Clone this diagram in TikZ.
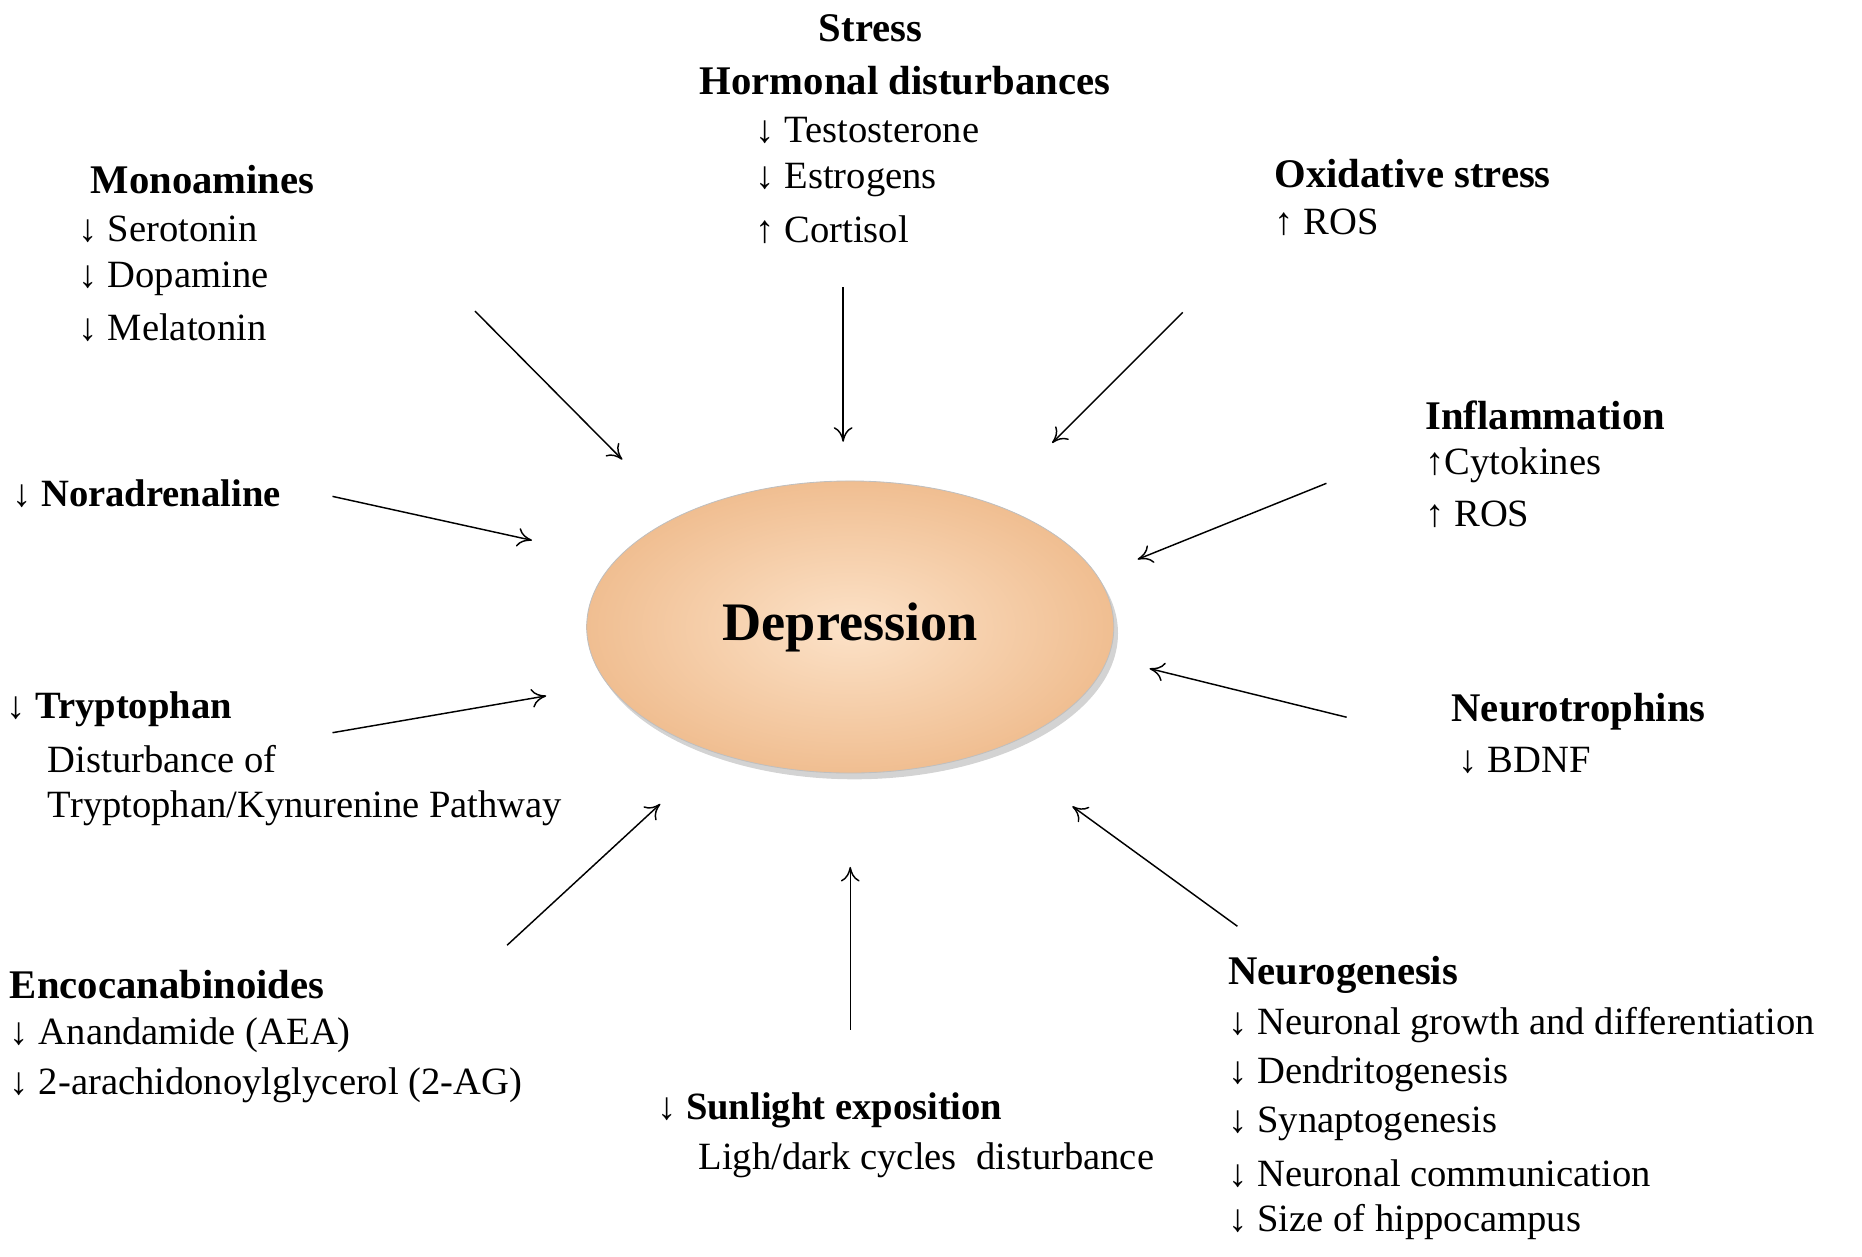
\documentclass[tikz,border=0pt]{standalone}
\usepackage{fontspec}
\setmainfont{Liberation Serif}
\usetikzlibrary{arrows.meta,shadows,shapes.geometric}
\begin{document}
\begin{tikzpicture}[x=0.02cm,y=-0.02cm,
  t/.style={anchor=west,inner sep=0pt,font=\fontsize{18.5}{22}\selectfont},
  b/.style={t,font=\fontsize{19.5}{22}\selectfont\bfseries},
  bc/.style={b,anchor=center},
  ar/.style={-{To[length=7pt,width=9pt]},line width=0.7pt}]
\useasboundingbox (0,0) rectangle (1568,1058);
\node[ellipse,minimum width=8.88cm,minimum height=4.92cm,draw=gray!50,
  inner color={rgb,255:red,252;green,226;blue,200},outer color={rgb,255:red,240;green,190;blue,145},
  drop shadow={opacity=0.35,shadow xshift=2pt,shadow yshift=-3pt},
  font=\fontsize{26}{30}\selectfont\bfseries] (dep) at (716,528) {Depression};
% texts
\node[bc] (stress) at (733,24) {Stress};
\node[bc] (horm) at (762,68) {Hormonal disturbances};
\node[t] (h1) at (636,110) {↓ Testosterone};
\node[t] (h2) at (636,152) {↓ Estrogens};
\node[t] (h3) at (636,193) {↑ Cortisol};
\node[b] (mono) at (76,151) {Monoamines};
\node[t] (m1) at (66,193) {↓ Serotonin};
\node[t] (m2) at (66,235) {↓ Dopamine};
\node[t] (m3) at (66,276) {↓ Melatonin};
\node[b] (ox) at (1073,146) {Oxidative stress};
\node[t] (ox1) at (1073,187) {↑ ROS};
\node[b] (infl) at (1200,350) {Inflammation};
\node[t] (in1) at (1200,392) {↑Cytokines};
\node[t] (in2) at (1200,433) {↑ ROS};
\node[t] (nor) at (10,416) {↓ \textbf{Noradrenaline}};
\node[t] (tr) at (5,597) {↓ \textbf{Tryptophan}};
\node[t] (tr1) at (40,639) {Disturbance of};
\node[t] (tr2) at (40,681) {Tryptophan/Kynurenine Pathway};
\node[b] (nt) at (1222,599) {Neurotrophins};
\node[t] (nt1) at (1228,640) {↓ BDNF};
\node[b] (enc) at (8,829) {Encocanabinoides};
\node[t] (e1) at (8,872) {↓ Anandamide (AEA)};
\node[t] (e2) at (8,914) {↓ 2-arachidonoylglycerol (2-AG)};
\node[t] (sun) at (553,935) {↓ \textbf{Sunlight exposition}};
\node[t] (sun1) at (588,977) {Ligh/dark cycles\ \ disturbance};
\node[b] (ng) at (1034,821) {Neurogenesis};
\node[t] (n1) at (1034,863) {↓ Neuronal growth and differentiation};
\node[t] (n2) at (1034,905) {↓ Dendritogenesis};
\node[t] (n3) at (1034,946) {↓ Synaptogenesis};
\node[t] (n4) at (1034,988) {↓ Neuronal communication};
\node[t] (n5) at (1034,1029) {↓ Size of hippocampus};
% arrow endpoints
\foreach \n/\a/\b/\c/\d in {1/400/262/524/387,2/710/242/710/372,3/996/263/886/373,4/280/418/448/455,5/1117/407/958/471,6/280/617/460/586,7/1134/604/968/563,8/427/796/556/677,9/716/867/716/730,10/1042/780/903/679}{
  \coordinate (s\n) at (\a,\b); \coordinate (e\n) at (\c,\d);
  \draw[ar] (s\n) -- (e\n);}
\end{tikzpicture}
\end{document}
